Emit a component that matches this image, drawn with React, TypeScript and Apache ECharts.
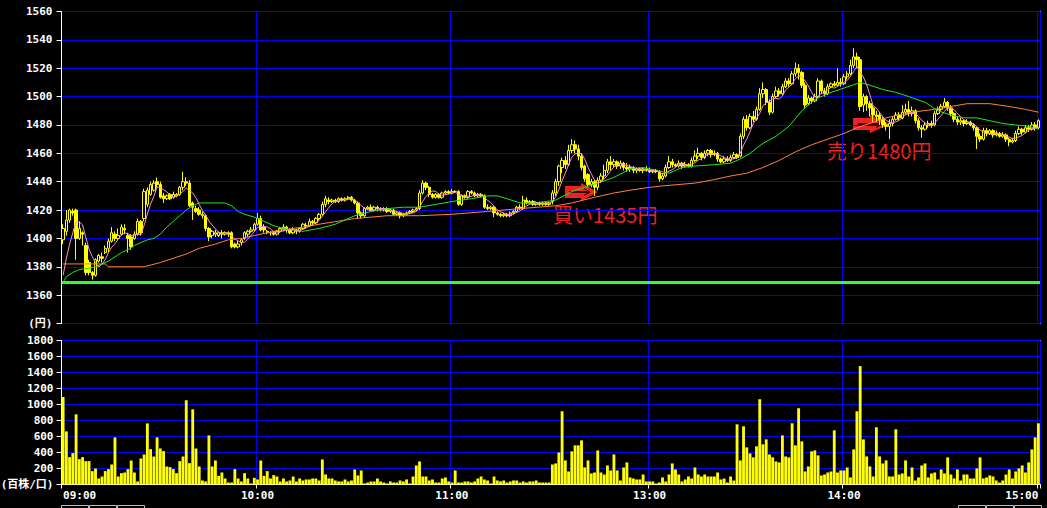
import React, { useEffect, useRef } from "react";
import * as echarts from "echarts";

// ---- data ----
const hourLabels = ["09:00", "10:00", "11:00", "13:00", "14:00", "15:00"];
const prevClose = 1369;

const opens = [
  1399,1405,1413,1419,1420,1400,1404,1395,1383,1376,
  1374,1384,1387,1390,1393,1398,1403,1400,1403,1407,
  1402,1401,1400,1403,1412,1414,1424,1431,1434,1440,
  1438,1430,1428,1431,1429,1430,1431,1436,1440,1439,
  1425,1421,1420,1416,1416,1407,1402,1403,1402,1404,
  1403,1404,1404,1396,1394,1397,1400,1403,1405,1406,
  1410,1414,1408,1405,1404,1404,1403,1405,1407,1408,
  1406,1404,1406,1405,1407,1409,1409,1412,1411,1414,
  1417,1424,1427,1426,1427,1426,1428,1427,1428,1429,
  1427,1425,1418,1416,1421,1422,1420,1422,1421,1420,
  1421,1419,1420,1417,1418,1416,1417,1418,1419,1420,
  1421,1432,1439,1436,1431,1429,1431,1429,1432,1433,
  1432,1433,1433,1424,1430,1429,1433,1432,1430,1431,
  1430,1422,1421,1422,1418,1417,1416,1417,1416,1418,
  1419,1422,1421,1427,1425,1426,1424,1425,1424,1425,1424,
  1426,1432,1440,1450,1455,1452,1462,1466,1463,1458,
  1451,1445,1438,1440,1436,1441,1444,1448,1454,1452,
  1454,1451,1453,1450,1449,1450,1448,1449,1448,1449,
  1448,1447,1448,1447,1442,1444,1450,1454,1452,1451,
  1453,1451,1452,1451,1455,1458,1460,1457,1460,1462,
  1459,1460,1456,1454,1456,1455,1457,1459,1458,1472,
  1484,1478,1486,1484,1491,1502,1505,1496,1489,1500,
  1504,1502,1507,1511,1509,1516,1520,1517,1508,1495,
  1499,1497,1500,1511,1504,1502,1507,1509,1508,1510,
  1509,1514,1516,1522,1528,1526,1494,1500,1495,1492,
  1487,1487,1484,1480,1479,1481,1484,1487,1485,1489,
  1491,1488,1490,1483,1478,1477,1480,1481,1480,1488,
  1491,1493,1496,1492,1488,1484,1482,1483,1481,1482,
  1480,1478,1472,1470,1476,1474,1476,1473,1474,1472,
  1473,1470,1468,1469,1474,1477,1475,1478,1477,1480,1478,
];

const closes = [
  1407,1413,1420,1418,1400,1407,1403,1376,1376,1374,
  1385,1388,1386,1393,1398,1404,1400,1402,1408,1406,
  1400,1394,1403,1412,1404,1433,1434,1438,1439,1438,
  1429,1428,1430,1428,1431,1431,1436,1440,1439,1423,
  1422,1419,1417,1417,1407,1401,1405,1404,1404,1403,
  1404,1403,1394,1394,1396,1399,1404,1405,1406,1410,
  1414,1406,1406,1404,1404,1403,1405,1407,1408,1406,
  1404,1406,1405,1407,1410,1409,1412,1411,1414,1417,
  1424,1428,1426,1427,1426,1428,1427,1428,1429,1427,
  1425,1418,1416,1421,1422,1420,1422,1421,1420,1421,
  1419,1420,1417,1418,1416,1417,1418,1419,1420,1421,
  1432,1439,1436,1431,1429,1431,1429,1432,1433,1432,
  1433,1433,1424,1430,1429,1433,1432,1430,1431,1430,
  1422,1421,1422,1418,1417,1416,1417,1416,1418,1419,
  1422,1421,1427,1425,1426,1424,1425,1424,1425,1424,1425,
  1432,1440,1451,1455,1452,1462,1466,1463,1458,1450,
  1442,1438,1440,1436,1441,1444,1448,1454,1452,1454,
  1451,1453,1450,1449,1450,1448,1449,1448,1449,1448,
  1447,1448,1447,1442,1444,1450,1454,1452,1451,1453,
  1451,1452,1451,1455,1458,1460,1457,1460,1462,1459,
  1460,1456,1454,1456,1455,1457,1459,1457,1472,1484,
  1478,1486,1484,1491,1502,1505,1496,1489,1500,1504,
  1502,1507,1511,1509,1516,1520,1517,1508,1494,1499,
  1497,1500,1511,1504,1502,1507,1509,1508,1510,1509,
  1514,1516,1522,1528,1526,1493,1500,1495,1492,1487,
  1486,1484,1480,1479,1481,1484,1487,1485,1489,1491,
  1488,1490,1483,1478,1477,1480,1481,1480,1488,1491,
  1493,1496,1492,1488,1484,1482,1483,1481,1482,1480,
  1478,1472,1470,1476,1474,1476,1473,1474,1472,1473,
  1470,1468,1469,1474,1477,1475,1478,1477,1480,1478,1483,
];

const lows = [
  1396,1402,1411,1416,1385,1399,1395,1374,1374,1371,
  1373,1383,1383,1389,1390,1397,1398,1399,1402,1403,
  1390,1392,1399,1402,1402,1412,1422,1430,1433,1436,
  1428,1425,1427,1427,1428,1429,1430,1434,1437,1422,
  1413,1418,1416,1414,1405,1398,1400,1401,1401,1400,
  1402,1401,1393,1393,1393,1395,1399,1401,1404,1405,
  1409,1405,1404,1403,1402,1402,1402,1404,1405,1404,
  1403,1403,1403,1404,1406,1407,1408,1409,1410,1413,
  1416,1422,1424,1425,1425,1425,1426,1426,1427,1426,
  1424,1414,1414,1415,1420,1419,1419,1419,1419,1419,
  1418,1418,1416,1416,1414,1415,1416,1417,1418,1419,
  1420,1431,1434,1429,1428,1428,1428,1428,1431,1431,
  1431,1432,1423,1423,1428,1428,1431,1429,1429,1429,
  1421,1420,1420,1415,1416,1415,1415,1415,1415,1417,
  1418,1420,1420,1424,1424,1423,1423,1423,1423,1423,1423,
  1424,1430,1437,1446,1449,1451,1460,1460,1455,1448,
  1440,1436,1436,1430,1434,1439,1442,1446,1448,1450,
  1449,1449,1448,1447,1447,1446,1446,1447,1446,1447,
  1446,1446,1446,1440,1441,1443,1449,1450,1450,1450,
  1449,1450,1450,1450,1454,1456,1455,1456,1458,1457,
  1458,1454,1453,1453,1454,1454,1456,1456,1457,1470,
  1476,1477,1482,1483,1490,1499,1494,1487,1488,1499,
  1500,1501,1506,1507,1508,1514,1512,1506,1492,1494,
  1495,1496,1499,1502,1500,1501,1506,1507,1507,1507,
  1508,1512,1515,1520,1520,1490,1489,1490,1486,1482,
  1482,1480,1478,1476,1470,1479,1483,1483,1484,1487,
  1486,1486,1481,1476,1471,1476,1478,1478,1479,1487,
  1490,1492,1490,1486,1482,1480,1480,1479,1480,1479,
  1476,1463,1468,1469,1472,1473,1471,1472,1471,1471,
  1468,1465,1467,1468,1473,1473,1474,1475,1476,1476,1477,
];

const highs = [
  1410,1420,1421,1421,1421,1412,1405,1397,1385,1377,
  1386,1389,1390,1395,1400,1408,1405,1407,1410,1410,
  1404,1403,1405,1414,1413,1435,1436,1440,1441,1443,
  1440,1432,1431,1432,1433,1432,1437,1447,1443,1441,
  1426,1423,1422,1419,1417,1408,1406,1406,1405,1406,
  1405,1405,1405,1397,1398,1400,1405,1406,1408,1411,
  1418,1416,1410,1406,1405,1405,1406,1408,1410,1409,
  1407,1408,1407,1408,1411,1411,1414,1413,1415,1418,
  1426,1430,1429,1428,1428,1429,1429,1429,1430,1430,
  1428,1426,1419,1422,1423,1424,1423,1423,1422,1422,
  1422,1421,1421,1419,1419,1418,1419,1420,1421,1422,
  1434,1441,1440,1437,1432,1432,1432,1433,1434,1434,
  1435,1434,1434,1431,1431,1434,1434,1433,1432,1432,
  1431,1424,1423,1423,1419,1418,1418,1418,1419,1420,
  1423,1424,1430,1429,1427,1427,1426,1426,1426,1426,1426,
  1434,1442,1452,1457,1458,1466,1470,1469,1466,1460,
  1452,1446,1442,1441,1443,1446,1452,1456,1458,1456,
  1455,1455,1454,1453,1452,1451,1450,1450,1450,1451,
  1450,1449,1449,1448,1446,1452,1458,1456,1453,1455,
  1454,1454,1453,1457,1462,1464,1461,1462,1463,1463,
  1462,1461,1457,1458,1458,1459,1461,1460,1474,1486,
  1487,1488,1490,1493,1506,1510,1506,1498,1502,1507,
  1506,1509,1513,1513,1518,1524,1523,1518,1510,1501,
  1500,1502,1513,1512,1506,1509,1510,1511,1520,1513,
  1516,1518,1526,1534,1531,1528,1502,1501,1497,1494,
  1490,1489,1486,1482,1484,1486,1489,1489,1494,1495,
  1497,1493,1491,1485,1480,1482,1483,1483,1490,1493,
  1495,1499,1497,1494,1489,1486,1485,1484,1484,1483,
  1481,1479,1474,1478,1478,1477,1477,1476,1475,1475,
  1474,1471,1471,1476,1479,1478,1480,1480,1482,1482,1484,
];

const volumes = [
  1094,664,342,392,877,317,342,292,292,167,
  200,75,100,167,192,250,589,100,142,150,
  192,300,150,38,325,375,764,442,350,589,
  450,417,225,217,192,142,292,350,1053,267,
  940,450,225,50,38,614,225,300,108,150,
  75,25,25,192,75,38,142,75,13,83,
  63,300,108,167,75,117,100,38,75,38,
  50,100,38,75,50,63,63,75,75,50,
  313,125,75,75,50,38,38,63,38,50,
  188,113,175,13,25,38,38,75,38,25,
  13,38,25,25,50,38,63,13,100,238,
  288,100,100,50,63,25,25,75,88,38,
  25,175,25,25,38,38,25,38,75,100,
  63,50,13,100,50,38,50,25,38,50,
  50,25,38,25,38,38,50,25,25,25,25,
  250,263,400,915,301,163,414,489,489,552,
  213,301,138,150,426,150,125,238,175,376,
  175,50,213,276,88,75,63,63,125,38,
  38,38,13,25,88,38,125,263,188,125,
  38,63,100,75,213,125,100,125,100,100,
  100,150,63,75,25,100,50,752,301,727,
  464,389,339,477,1066,502,564,376,339,288,
  276,614,351,339,765,489,953,539,163,226,
  414,426,364,113,125,150,163,677,150,176,
  176,213,88,439,915,1480,564,351,226,100,
  715,351,263,301,100,100,690,125,138,301,
  100,213,50,88,238,263,88,138,150,63,
  188,138,339,125,75,188,50,125,125,75,
  75,201,339,75,88,113,100,50,25,50,
  125,188,75,163,201,238,150,276,439,589,765,
];

// first values of the short moving average (carry-over from previous session)
const ma5Head = [1374, 1386, 1396, 1404];

// [bar index, value]
const ma25Points: [number, number][] = [
  [0,1369],[1,1373],[3,1376],[5,1378],[8,1379],[10,1380],[12,1382],[14,1384],[16,1387],
  [18,1390],[20,1392],[22,1395],[24,1397],[26,1399],[28,1400],[30,1403],[32,1408],[34,1412],
  [36,1416],[38,1420],[40,1423],[42,1425],[46,1425],[50,1425],[52,1423],[54,1419],[56,1417],
  [59,1415],[61,1413],[63,1411],[65,1409],[68,1407],[71,1406],[74,1405],[79,1407],[84,1410],
  [90,1416],[95,1419],[100,1421],[105,1422],[110,1422],[115,1424],[120,1426],[126,1428],
  [131,1430],[134,1430],[137,1428],[141,1425],[146,1425],[152,1427],[157,1433],[161,1436],
  [165,1439],[170,1443],[175,1449],[179,1450],[185,1447],[187,1446],[191,1450],[195,1451],
  [201,1452],[206,1453],[209,1456],[212,1460],[216,1467],[220,1472],[224,1479],[228,1490],
  [232,1498],[237,1503],[241,1506],[246,1510],[249,1508],[253,1505],[257,1503],[261,1500],
  [266,1496],[270,1490],[274,1487],[278,1485],[282,1485],[286,1483],[290,1481],[294,1480],
  [298,1479],[301,1477],
];

const ma75Points: [number, number][] = [
  [0,1382],[13,1382],[14,1380],[25,1380],[30,1383],[34,1386],[38,1389],[42,1393],[47,1396],
  [51,1399],[55,1400],[59,1402],[63,1404],[67,1406],[71,1407],[74,1408],[79,1410],[90,1414],
  [100,1416],[110,1416],[120,1417],[131,1419],[141,1421],[152,1423],[157,1425],[164,1429],
  [170,1432],[175,1434],[181,1436],[185,1437],[195,1439],[200,1441],[206,1444],[211,1446],
  [216,1450],[221,1455],[226,1461],[231,1466],[236,1470],[241,1474],[245,1478],[254,1485],
  [262,1489],[269,1491],[279,1495],[286,1495],[292,1493],[297,1491],[301,1489],
];

const buyLabel = "買い1435円";
const sellLabel = "売り1480円";

// ---- derived ----
const n = closes.length;
const morningBars = 151; // 09:00 .. 11:30
const pad = (v: number) => (v < 10 ? "0" + v : "" + v);
const times = closes.map((_, i) => {
  const m = i < morningBars ? 9 * 60 + i : 12 * 60 + 30 + (i - morningBars);
  return pad(Math.floor(m / 60)) + ":" + pad(m % 60);
});
const candleData = closes.map((c, i) => [opens[i], c, lows[i], highs[i]]);
const ma5 = closes.map((_, i) => {
  if (i < ma5Head.length) return ma5Head[i];
  let s = 0;
  for (let k = i - 4; k <= i; k++) s += closes[k];
  return +(s / 5).toFixed(2);
});
const fromPoints = (pts: [number, number][]) => {
  const arr: (number | null)[] = new Array(n).fill(null);
  pts.forEach(([i, v]) => (arr[i] = v));
  return arr;
};
const ma25 = fromPoints(ma25Points);
const ma75 = fromPoints(ma75Points);

const isHour = (_: number, value: string) => hourLabels.includes(value);
const MONO = "'DejaVu Sans Mono', 'Noto Sans CJK JP', monospace";
const BLUE = "#0000ff";
const RED = "#ee2222";

export default function App() {
  const ref = useRef<HTMLDivElement>(null);
  useEffect(() => {
    document.body.style.margin = "0";
    document.body.style.background = "#000";
    const chart = echarts.init(ref.current!, undefined, { renderer: "svg" });
    const labelStyle = { color: "#fff", fontWeight: "bold", fontSize: 11, fontFamily: MONO };
    const btn = (x: number) => ({
      type: "rect", shape: { x, y: 505.5, width: 27, height: 8 },
      style: { fill: "#000", stroke: "#c0c0c0", lineWidth: 1 },
    });
    chart.setOption({
      animation: false,
      backgroundColor: "#000",
      grid: [
        { left: 61.5, right: 7, top: 11.5, height: 312, outerBoundsMode: "none", containLabel: false },
        { left: 61.5, right: 7, top: 340.5, height: 144, outerBoundsMode: "none", containLabel: false },
      ],
      xAxis: [
        {
          type: "category", gridIndex: 0, data: times, boundaryGap: true,
          axisLine: { show: false }, axisTick: { show: false }, axisLabel: { show: false },
          splitLine: { show: true, interval: isHour, lineStyle: { color: BLUE, width: 1 } },
        },
        {
          type: "category", gridIndex: 1, data: times, boundaryGap: true,
          axisLine: { show: true, lineStyle: { color: "#fff", width: 1 } },
          axisTick: { show: true, interval: isHour, length: 4, lineStyle: { color: "#fff" } },
          axisLabel: {
            show: true, interval: isHour, margin: 5, alignMinLabel: "left", alignMaxLabel: "right",
            ...labelStyle,
          },
          splitLine: { show: true, interval: isHour, lineStyle: { color: BLUE, width: 1 } },
        },
      ],
      yAxis: [
        {
          type: "value", gridIndex: 0, min: 1340, max: 1560, interval: 20,
          axisLine: { show: true, lineStyle: { color: "#fff" } },
          axisTick: { show: true, length: 5, lineStyle: { color: "#fff" } },
          axisLabel: { margin: 9, ...labelStyle, formatter: (v: number) => (v === 1340 ? "(円)" : String(v)) },
          splitLine: { show: true, lineStyle: { color: BLUE, width: 1 } },
        },
        {
          type: "value", gridIndex: 1, min: 0, max: 1800, interval: 200,
          axisLine: { show: true, lineStyle: { color: "#fff" } },
          axisTick: { show: true, length: 5, lineStyle: { color: "#fff" } },
          axisLabel: {
            margin: 8, ...labelStyle,
            formatter: (v: number) => (v === 0 ? "(百株/口)" : String(v)),
          },
          splitLine: { show: true, lineStyle: { color: BLUE, width: 1 } },
        },
      ],
      series: [
        {
          type: "candlestick", xAxisIndex: 0, yAxisIndex: 0, data: candleData, barWidth: "90%",
          itemStyle: { color: "#000", color0: "#ffff00", borderColor: "#ffff00", borderColor0: "#ffff00", borderWidth: 1 },
          markLine: {
            silent: true, symbol: ["none", "none"], label: { show: false },
            lineStyle: { color: "#2cff2c", width: 3, type: "solid" },
            data: [{ yAxis: prevClose }],
          },
        },
        {
          type: "line", xAxisIndex: 0, yAxisIndex: 0, data: ma75, connectNulls: true,
          showSymbol: false, lineStyle: { color: "#ff7f40", width: 1 },
        },
        {
          type: "line", xAxisIndex: 0, yAxisIndex: 0, data: ma25, connectNulls: true,
          showSymbol: false, lineStyle: { color: "#22e622", width: 1 },
        },
        {
          type: "line", xAxisIndex: 0, yAxisIndex: 0, data: ma5,
          showSymbol: false, lineStyle: { color: "#ff8fcf", width: 1 },
        },
        {
          type: "bar", xAxisIndex: 1, yAxisIndex: 1, data: volumes, barCategoryGap: "12%",
          itemStyle: { color: "#ffff00" },
        },
      ],
      graphic: [
        { type: "line", shape: { x1: 1040.5, y1: 11, x2: 1040.5, y2: 324 }, style: { stroke: "#fff", lineWidth: 1 } },
        { type: "line", shape: { x1: 1040.5, y1: 340, x2: 1040.5, y2: 485 }, style: { stroke: "#fff", lineWidth: 1 } },
        // buy arrow
        { type: "polygon", shape: { points: [[565, 186], [581, 186], [581, 183], [598, 192], [581, 201], [581, 198], [565, 198]] }, style: { fill: RED } },
        { type: "polyline", shape: { points: [[569, 192], [589, 192]] }, style: { stroke: "#000", lineWidth: 1.5 } },
        { type: "polyline", shape: { points: [[584, 188.5], [590, 192], [584, 195.5]] }, style: { stroke: "#000", fill: "none", lineWidth: 1 } },
        // sell arrow
        { type: "polygon", shape: { points: [[853, 118], [870, 118], [870, 115], [890, 124], [870, 133], [870, 130], [853, 130]] }, style: { fill: RED } },
        { type: "polyline", shape: { points: [[858, 124], [881, 124]] }, style: { stroke: "#000", lineWidth: 1.5 } },
        { type: "polyline", shape: { points: [[876, 120.5], [882, 124], [876, 127.5]] }, style: { stroke: "#000", fill: "none", lineWidth: 1 } },
        {
          type: "text", x: 553, y: 214,
          style: { text: buyLabel, fill: RED, font: "20px 'Noto Sans CJK JP', sans-serif", textVerticalAlign: "middle" },
        },
        {
          type: "text", x: 827, y: 150,
          style: { text: sellLabel, fill: RED, font: "20px 'Noto Sans CJK JP', sans-serif", textVerticalAlign: "middle" },
        },
        btn(61.5), btn(89.5), btn(117.5), btn(958.5), btn(986.5), btn(1014.5),
      ],
    });
    return () => chart.dispose();
  }, []);
  return (
    <div
      ref={ref}
      style={{ position: "fixed", left: 0, top: 0, width: 1047, height: 508, background: "#000" }}
    />
  );
}
